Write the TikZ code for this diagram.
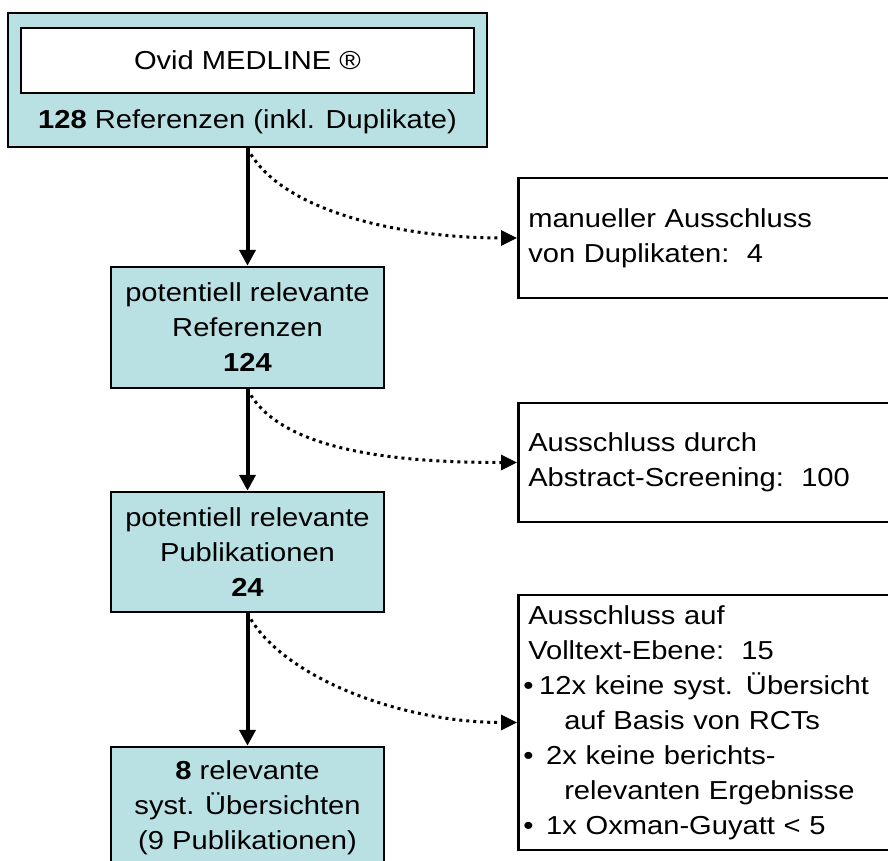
\documentclass[tikz,border=0pt]{standalone}
\usepackage{fontspec}
\setmainfont{Liberation Sans}[FakeStretch=1.12]
\usetikzlibrary{arrows.meta}
\definecolor{boxcyan}{RGB}{185,224,227}
\tikzset{
  mainarrow/.style={-{Triangle[length=16pt, width=16pt]}, line width=4pt},
  dotarrow/.style={-{Triangle[length=16pt, width=15pt]}, line width=3pt, dash pattern=on 3pt off 4pt},
  stagebox/.style={draw, line width=2.5pt, fill=boxcyan, minimum width=273pt, minimum height=121pt, align=center, inner sep=0pt},
  dbbox/.style={draw, line width=2.5pt, fill=white, minimum width=453pt, minimum height=65pt, align=center},
  exclbox/.style={draw, line width=2.5pt, fill=white, anchor=west, text width=380pt, inner xsep=10pt, align=left},
  plaintext/.style={align=center, inner sep=0pt}
}

\begin{document}
\begin{tikzpicture}[x=1pt, y=-1pt, every node/.style={font=\fontsize{26}{35}\selectfont}]
  \useasboundingbox (0,0) rectangle (888,860);
  \clip (0,0) rectangle (888,860);
  \node[stagebox, minimum width=479pt, minimum height=134pt] (src) at (247.5,80) {};
  \node[dbbox] (db) at (247.5,60.5) {Ovid MEDLINE ®};
  \node[plaintext] (srcn) at (247.5,121.5) {\textbf{128} Referenzen (inkl. Duplikate)};
  \node[stagebox] (ref) at (247.5,327.5) {potentiell relevante\\Referenzen\\\textbf{124}};
  \node[stagebox, minimum height=120pt] (pub) at (247.5,552) {potentiell relevante\\Publikationen\\\textbf{24}};
  \node[stagebox, minimum height=122pt] (incl) at (247.5,808) {\textbf{8} relevante\\syst. Übersichten\\(9 Publikationen)};
  \node[exclbox, minimum height=120pt] (dup) at (517,238) {manueller Ausschluss\\von Duplikaten:\ \ 4};
  \node[exclbox, minimum height=119pt] (abs) at (517,462.5) {Ausschluss durch\\Abstract-Screening:\ \ 100};
  \node[exclbox, minimum height=255pt] (full) at (517,722.5) {Ausschluss auf\\Volltext-Ebene:\ \ 15\\\makebox[11pt][l]{\hspace*{-5pt}•}12x keine syst. Übersicht\\\hspace*{36pt}auf Basis von RCTs\\\makebox[18pt][l]{\hspace*{-5pt}•}2x keine berichts-\\\hspace*{36pt}relevanten Ergebnisse\\\makebox[18pt][l]{\hspace*{-5pt}•}1x Oxman-Guyatt < 5};
  \draw[dotarrow] (src.south) .. controls +(32,63) and +(-117,0) .. (dup.west);
  \draw[dotarrow] (ref.south) .. controls +(32,63) and +(-117,0) .. (abs.west);
  \draw[dotarrow] (pub.south) .. controls +(32,63) and +(-117,0) .. (full.west);
  \draw[mainarrow] (src.south) -- (ref.north);
  \draw[mainarrow] (ref.south) -- (pub.north);
  \draw[mainarrow] (pub.south) -- (incl.north);
\end{tikzpicture}
\end{document}
